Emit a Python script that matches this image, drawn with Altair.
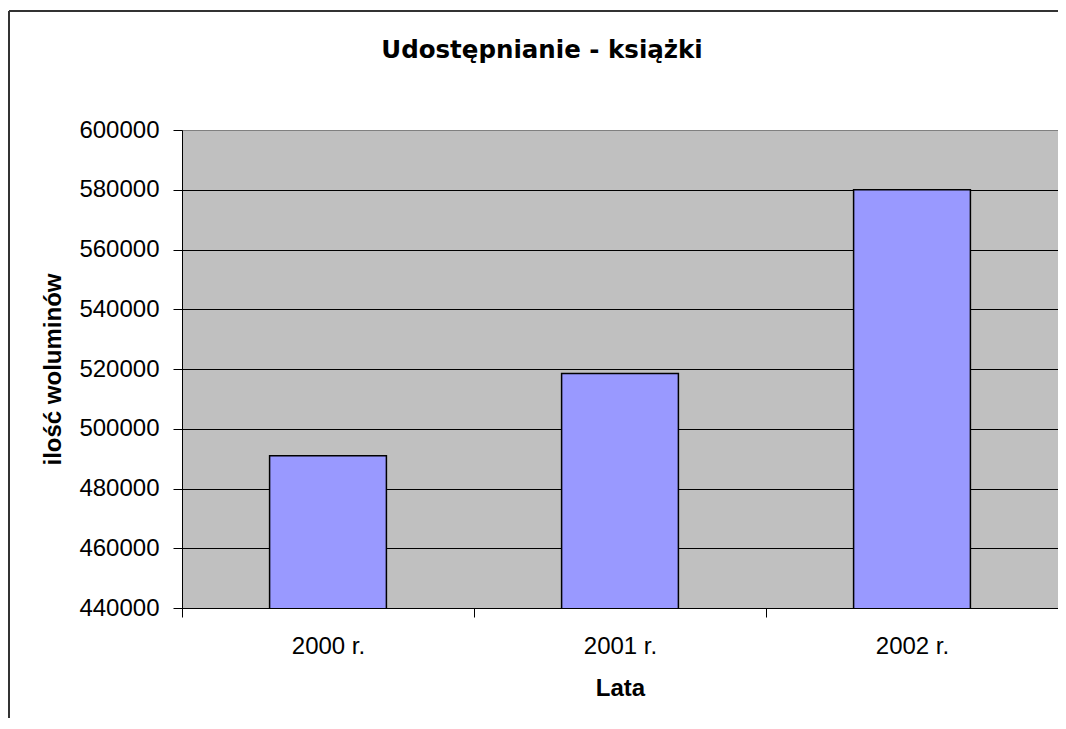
import altair as alt
import pandas as pd

years = ["2000 r.", "2001 r.", "2002 r."]
volumes = [491000, 518500, 580000]
y_ticks = [440000, 460000, 480000, 500000, 520000, 540000, 560000, 580000, 600000]

df = pd.DataFrame({"rok": years, "wolumeny": volumes})

LABEL_FONT = "Liberation Sans"

bars = alt.Chart(df).mark_bar(
    color="#9999FF", stroke="black", strokeWidth=1.5, width={"band": 0.4}, clip=True
).encode(
    x=alt.X(
        "rok:N",
        sort=years,
        scale=alt.Scale(paddingInner=0, paddingOuter=0),
        axis=alt.Axis(
            title="Lata",
            labelAngle=0,
            tickBand="extent",
            tickSize=9,
            tickColor="black",
            domainColor="black",
            labelPadding=17,
            labelFont=LABEL_FONT,
            labelFontSize=24,
            labelColor="black",
            titleFont=LABEL_FONT,
            titleFontSize=24,
            titleFontWeight="bold",
            titleColor="black",
            titleBaseline="middle",
            titleY=80,
            grid=False,
        ),
    ),
    y=alt.Y(
        "wolumeny:Q",
        scale=alt.Scale(domain=[y_ticks[0], y_ticks[-1]], nice=False, zero=False),
        axis=alt.Axis(
            title="ilość woluminów",
            values=y_ticks,
            format="d",
            tickSize=9,
            tickColor="black",
            domainColor="black",
            labelPadding=14,
            labelFont=LABEL_FONT,
            labelFontSize=24,
            labelColor="black",
            titleFont=LABEL_FONT,
            titleFontSize=24,
            titleFontWeight="bold",
            titleColor="black",
            titleBaseline="middle",
            titleAngle=270,
            titleX=-129,
            titleY=239,
            grid=True,
            gridColor={"condition": {"test": "datum.value >= 600000", "value": "#808080"}, "value": "black"},
            gridWidth=1,
        ),
    ),
)

frame_top = alt.Chart(alt.Data(values=[{}])).mark_rule(color="#333333", strokeWidth=2).encode(
    x=alt.value(-173), x2=alt.value(900), y=alt.value(-119)
)
frame_left = alt.Chart(alt.Data(values=[{}])).mark_rule(color="#333333", strokeWidth=2).encode(
    x=alt.value(-173), y=alt.value(-119), y2=alt.value(700)
)

chart = alt.layer(bars, frame_top, frame_left).properties(
    width=876,
    height=478,
    background="white",
    title=alt.TitleParams(
        "Udostępnianie - książki",
        font="DejaVu Sans",
        fontSize=24.5,
        fontWeight="bold",
        color="black",
        anchor="middle",
        baseline="middle",
        dx=-78,
        offset=-65,
    ),
    autosize=alt.AutoSizeParams(type="none"),
    padding={"left": 174, "top": 122, "right": 0, "bottom": 110},
).configure_view(
    fill="#C0C0C0", stroke="#808080", strokeWidth=1
)

chart.save("out.html", embed_options={"renderer": "svg", "actions": False})
